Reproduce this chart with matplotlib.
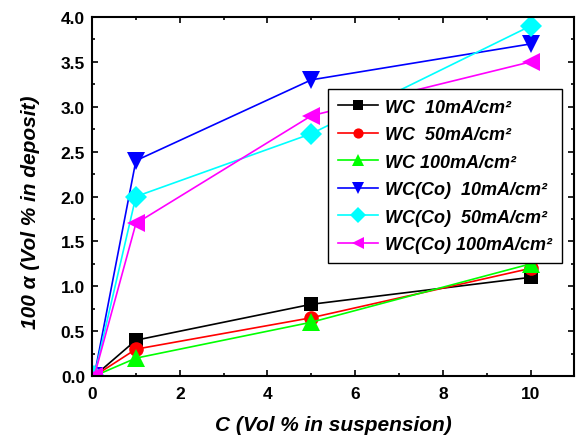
import numpy as np
import matplotlib
matplotlib.use("Agg")
import matplotlib.pyplot as plt
from matplotlib.ticker import MultipleLocator, FormatStrFormatter

# Data
conc = [0.05, 1, 5, 10]
labels = ["WC  10mA/cm²", "WC  50mA/cm²", "WC 100mA/cm²",
          "WC(Co)  10mA/cm²", "WC(Co)  50mA/cm²", "WC(Co) 100mA/cm²"]
wc_10 = [0.0, 0.40, 0.80, 1.10]
wc_50 = [0.0, 0.30, 0.65, 1.20]
wc_100 = [0.0, 0.20, 0.60, 1.25]
wcco_10 = [0.0, 2.40, 3.30, 3.70]
wcco_50 = [0.0, 2.00, 2.70, 3.90]
wcco_100 = [0.0, 1.70, 2.90, 3.50]

series = [wc_10, wc_50, wc_100, wcco_10, wcco_50, wcco_100]
colors = ["black", "red", "#00FF00", "blue", "cyan", "magenta"]
markers = ["s", "o", "^", "v", "D", "<"]
msizes = [9.5, 10.5, 13, 13, 11.5, 13]

plt.rcParams['font.family'] = ['Liberation Sans', 'DejaVu Sans']

fig = plt.figure(figsize=(5.79, 4.39), dpi=100)
ax = fig.add_axes([0.159, 0.141, 0.833, 0.818])

for ys, c, m, ms, lab in zip(series, colors, markers, msizes, labels):
    ax.plot(conc, ys, color=c, marker=m, markersize=ms, linewidth=1.2,
            markeredgewidth=0, label=lab)

ax.set_xlim(0, 11)
ax.set_ylim(0, 4)
ax.xaxis.set_major_locator(MultipleLocator(2))
ax.xaxis.set_minor_locator(MultipleLocator(1))
ax.yaxis.set_major_locator(MultipleLocator(0.5))
ax.yaxis.set_minor_locator(MultipleLocator(0.25))
ax.yaxis.set_major_formatter(FormatStrFormatter('%.1f'))

ax.tick_params(which='both', direction='in', top=True, right=True, width=1.2)
ax.tick_params(which='major', length=4.5, labelsize=12.5)
ax.tick_params(axis='x', which='major', pad=7)
ax.tick_params(axis='y', which='major', pad=5)
ax.tick_params(which='minor', length=2.5)
for lbl in ax.get_xticklabels() + ax.get_yticklabels():
    lbl.set_fontweight('bold')
for sp in ax.spines.values():
    sp.set_linewidth(1.5)

ax.set_xlabel("C (Vol % in suspension)", fontsize=15, fontweight='bold',
              fontstyle='italic')
ax.set_ylabel("100 α (Vol % in deposit)", fontsize=15, fontweight='bold',
              fontstyle='italic')
ax.xaxis.set_label_coords(0.5, -0.108)
ax.yaxis.set_label_coords(-0.108, 0.46)

leg = ax.legend(loc='upper left', bbox_to_anchor=(0.49, 0.80), borderaxespad=0,
                fancybox=False, edgecolor='black', framealpha=1, markerscale=0.7,
                handlelength=2.2, handletextpad=0.4, labelspacing=0.58,
                borderpad=0.55,
                prop={'size': 13, 'weight': 'bold', 'style': 'italic'})
leg.get_frame().set_linewidth(1.0)

fig.savefig("out.png", dpi=100)
